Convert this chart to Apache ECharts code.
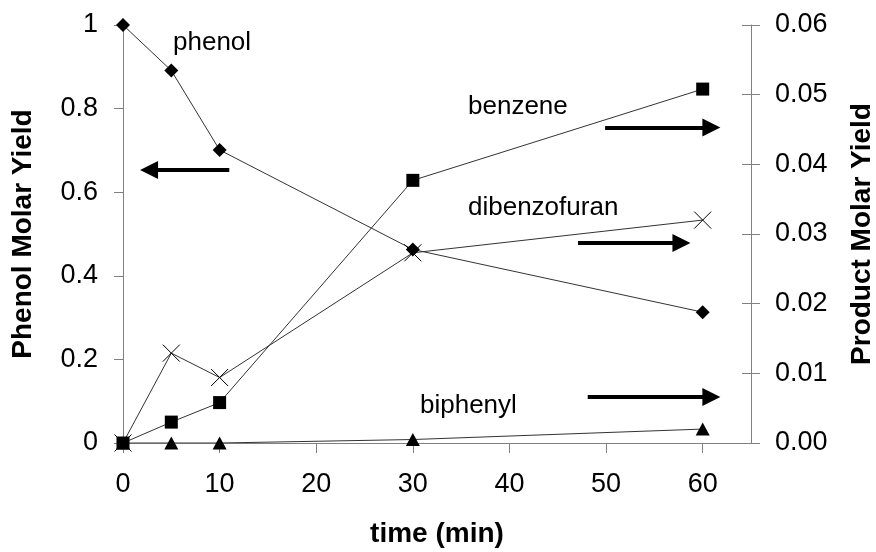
<!DOCTYPE html>
<html>
<head>
<meta charset="utf-8">
<script src="https://cdn.jsdelivr.net/npm/echarts@6/dist/echarts.min.js"></script>
<style>html,body{margin:0;padding:0;background:#fff;}#c{width:876px;height:552px;}</style>
</head>
<body>
<div id="c"></div>
<script>
// time (min)
var times = [0, 5, 10, 30, 60];
// phenol molar yield (left axis)
var phenol = [1.0, 0.891, 0.701, 0.463, 0.313];
// product molar yields (right axis)
var benzene = [0, 0.003, 0.0058, 0.0377, 0.0508];
var dibenzofuran = [0, 0.0129, 0.0094, 0.0273, 0.032];
var biphenyl = [0, 0, 0, 0.0005, 0.002];
// tick labels
var xTicks = [0, 10, 20, 30, 40, 50, 60];
// arrow annotations [x0, x1, y] in data units
var phenolArrow = [11.0, 2.7, 0.653];
var benzeneArrow = [49.9, 60.9, 0.0453];
var dibenzofuranArrow = [47.1, 57.8, 0.0287];
var biphenylArrow = [48.1, 60.9, 0.0066];

function pairs(ys){ return times.map(function(t,i){ return [t, ys[i]]; }); }
function arrow(a){
  return {
    silent: true, animation: false,
    symbol: ['none', 'triangle'], symbolSize: 18,
    label: {show: false},
    lineStyle: {color: '#000', width: 4, type: 'solid'},
    emphasis: {disabled: true},
    data: [[{coord: [a[0], a[2]]}, {coord: [a[1], a[2]]}]]
  };
}
var FONT = '"Liberation Sans", Arial, sans-serif';
var axisGray = '#808080';
var chart = echarts.init(document.getElementById('c'));
chart.setOption({
  animation: false,
  backgroundColor: '#fff',
  textStyle: {fontFamily: FONT},
  grid: {left: 123, right: 125, top: 25, bottom: 109, containLabel: false, outerBoundsMode: 'none'},
  xAxis: {
    type: 'value', min: 0, max: 65, interval: 10,
    name: 'time (min)', nameLocation: 'middle', nameGap: 77,
    nameTextStyle: {fontFamily: FONT, fontSize: 28, fontWeight: 'bold', color: '#000'},
    axisLine: {show: true, lineStyle: {color: axisGray, width: 1}},
    axisTick: {show: true, inside: false, length: 10, lineStyle: {color: axisGray}, customValues: xTicks},
    axisLabel: {fontFamily: FONT, fontSize: 27, color: '#000', margin: 28, customValues: xTicks},
    splitLine: {show: false}
  },
  yAxis: [
    {
      type: 'value', position: 'left', min: 0, max: 1, interval: 0.2,
      name: 'Phenol Molar Yield', nameLocation: 'middle', nameRotate: 90, nameGap: 86,
      nameTextStyle: {fontFamily: FONT, fontSize: 28, fontWeight: 'bold', color: '#000'},
      axisLine: {show: true, lineStyle: {color: axisGray, width: 1}},
      axisTick: {show: true, inside: false, length: 9, lineStyle: {color: axisGray}},
      axisLabel: {fontFamily: FONT, fontSize: 27, color: '#000', margin: 25},
      splitLine: {show: false}
    },
    {
      type: 'value', position: 'right', min: 0, max: 0.06, interval: 0.01,
      name: 'Product Molar Yield', nameLocation: 'middle', nameRotate: 90, nameGap: 97,
      nameTextStyle: {fontFamily: FONT, fontSize: 28, fontWeight: 'bold', color: '#000'},
      axisLine: {show: true, lineStyle: {color: axisGray, width: 1}},
      axisTick: {show: true, inside: false, length: 9, lineStyle: {color: axisGray}},
      axisLabel: {fontFamily: FONT, fontSize: 27, color: '#000', margin: 24,
        formatter: function(v){ return v.toFixed(2); }},
      splitLine: {show: false}
    },
    {
      type: 'value', position: 'right', min: 0, max: 0.06, interval: 0.01,
      axisLine: {show: false},
      axisTick: {show: true, inside: true, length: 9, lineStyle: {color: axisGray}},
      axisLabel: {show: false},
      splitLine: {show: false}
    }
  ],
  graphic: [
    {type: 'text', x: 173, y: 43, style: {text: 'phenol', font: '26px ' + FONT, fill: '#000', verticalAlign: 'middle'}},
    {type: 'text', x: 468, y: 107, style: {text: 'benzene', font: '26px ' + FONT, fill: '#000', verticalAlign: 'middle'}},
    {type: 'text', x: 468, y: 208, style: {text: 'dibenzofuran', font: '26px ' + FONT, fill: '#000', verticalAlign: 'middle'}},
    {type: 'text', x: 420, y: 406, style: {text: 'biphenyl', font: '26px ' + FONT, fill: '#000', verticalAlign: 'middle'}}
  ],
  series: [
    {
      name: 'biphenyl', type: 'line', yAxisIndex: 1, data: pairs(biphenyl),
      symbol: 'triangle', symbolSize: [14, 13], showAllSymbol: true,
      lineStyle: {color: '#333', width: 1}, itemStyle: {color: '#000'},
      markLine: arrow(biphenylArrow)
    },
    {
      name: 'dibenzofuran', type: 'line', yAxisIndex: 1, data: pairs(dibenzofuran),
      symbol: 'path://M0,0L10,10M10,0L0,10', symbolSize: 17, showAllSymbol: true,
      lineStyle: {color: '#333', width: 1},
      itemStyle: {color: 'rgba(0,0,0,0)', borderColor: '#000', borderWidth: 1},
      markLine: arrow(dibenzofuranArrow)
    },
    {
      name: 'phenol', type: 'line', yAxisIndex: 0, data: pairs(phenol),
      symbol: 'diamond', symbolSize: 14, showAllSymbol: true,
      lineStyle: {color: '#333', width: 1}, itemStyle: {color: '#000'},
      markLine: arrow(phenolArrow)
    },
    {
      name: 'benzene', type: 'line', yAxisIndex: 1, data: pairs(benzene),
      symbol: 'rect', symbolSize: 13, showAllSymbol: true,
      lineStyle: {color: '#333', width: 1}, itemStyle: {color: '#000'},
      markLine: arrow(benzeneArrow)
    }
  ]
});
</script>
</body>
</html>
